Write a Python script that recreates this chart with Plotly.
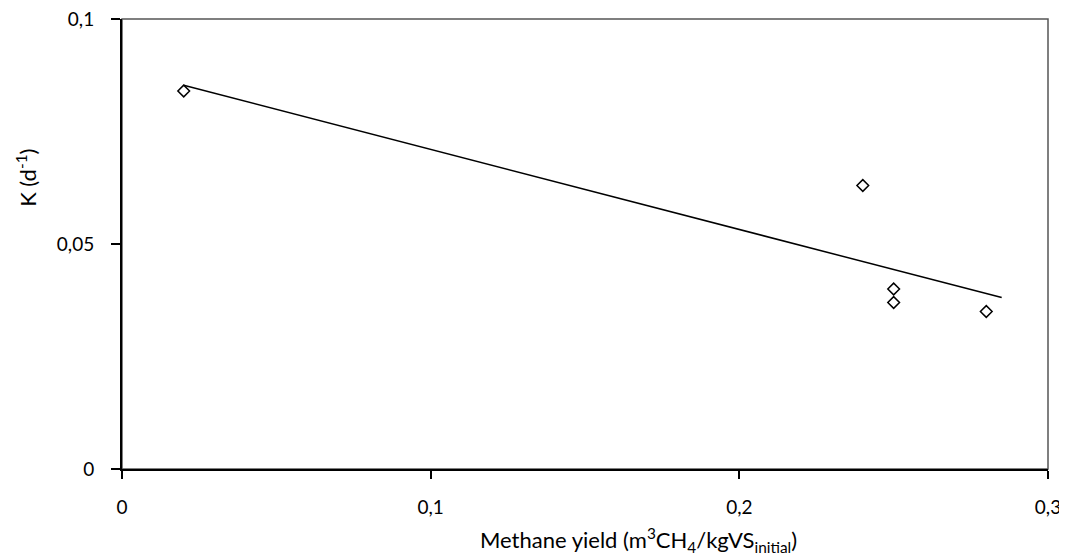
import numpy as np
import plotly.graph_objects as go

# Data
methane_yield = [0.02, 0.24, 0.25, 0.25, 0.28]
k_values = [0.084, 0.063, 0.040, 0.037, 0.035]
trend_x_range = [0.02, 0.285]

x_tick_vals = [0, 0.1, 0.2, 0.3]
x_tick_text = ["0", "0,1", "0,2", "0,3"]
y_tick_vals = [0, 0.05, 0.1]
y_tick_text = ["0", "0,05", "0,1"]

x_title = "Methane yield (m<sup>3</sup>CH<sub>4</sub>/kgVS<sub>initial</sub>)"
y_title = "K (d<sup>-1</sup>)"

slope, intercept = np.polyfit(methane_yield, k_values, 1)
trend_y = [slope * x + intercept for x in trend_x_range]

FONT = "Lato"

fig = go.Figure()
fig.add_trace(go.Scatter(
    x=trend_x_range, y=trend_y, mode="lines",
    line=dict(color="black", width=1.5), showlegend=False, hoverinfo="skip"))
fig.add_trace(go.Scatter(
    x=methane_yield, y=k_values, mode="markers",
    marker=dict(symbol="diamond-open", size=9, color="black",
                line=dict(color="black", width=1.5)),
    showlegend=False))

fig.add_shape(type="rect", xref="paper", yref="paper", x0=0, y0=0, x1=1, y1=1,
              line=dict(color="#555555", width=1.5), layer="below")

fig.add_annotation(text=x_title, xref="paper", yref="paper", x=0.558, y=-0.158,
                   xanchor="center", yanchor="middle", showarrow=False,
                   font=dict(family=FONT, size=22, color="black"))
fig.add_annotation(text=y_title, xref="paper", yref="paper", x=-0.1026, y=0.647,
                   xanchor="center", yanchor="middle", showarrow=False, textangle=-90,
                   font=dict(family=FONT, size=22, color="black"))

fig.update_layout(
    width=1059, height=547,
    margin=dict(l=114, r=19, t=11, b=86, autoexpand=False),
    plot_bgcolor="white", paper_bgcolor="white",
    font=dict(family=FONT, size=19, color="black"),
    xaxis=dict(range=[0, 0.3], tickvals=x_tick_vals, ticktext=x_tick_text,
               showgrid=False, zeroline=False, showline=True, linecolor="black",
               linewidth=2, ticks="outside", ticklen=8, tickcolor="black",
               tickwidth=1.5, ticklabelstandoff=12, ticklabeloverflow="allow",
               tickfont=dict(family=FONT, size=19, color="black")),
    yaxis=dict(range=[0, 0.1], tickvals=y_tick_vals, ticktext=y_tick_text,
               showgrid=False, zeroline=False, showline=True, linecolor="black",
               linewidth=2, ticks="outside", ticklen=9, tickcolor="black",
               tickwidth=1.5, ticklabelstandoff=13, ticklabeloverflow="allow",
               tickfont=dict(family=FONT, size=19, color="black")),
)

fig.write_html("out.html")
